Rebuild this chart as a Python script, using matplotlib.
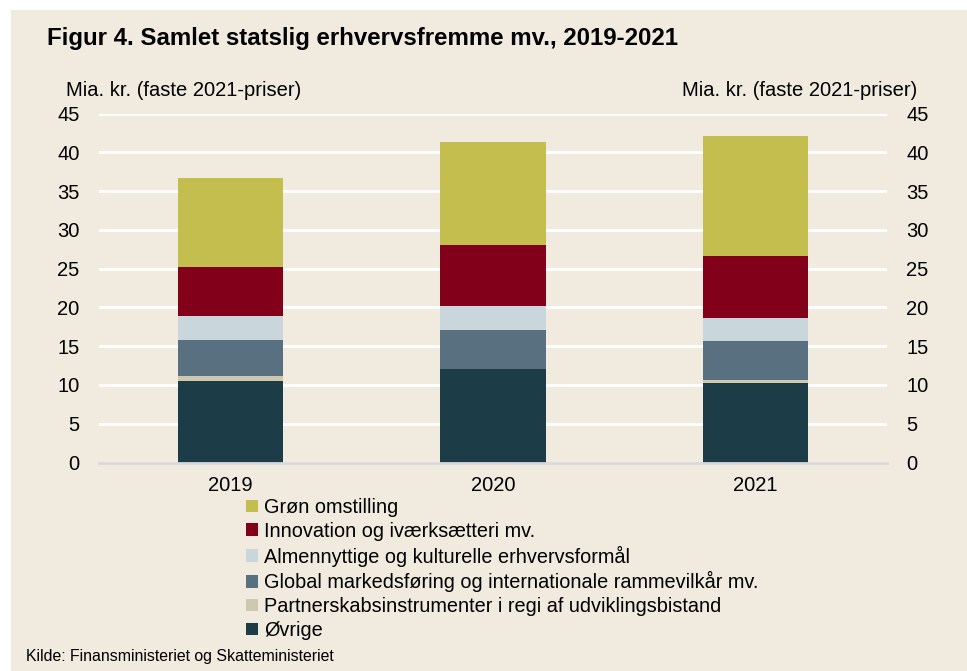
import matplotlib
matplotlib.use("Agg")
import matplotlib.pyplot as plt
from matplotlib.patches import Patch, Rectangle
import numpy as np

plt.rcParams['font.family'] = ['Liberation Sans', 'DejaVu Sans']

years = ["2019", "2020", "2021"]
series_names = [
    "Øvrige",
    "Partnerskabsinstrumenter i regi af udviklingsbistand",
    "Global markedsføring og internationale rammevilkår mv.",
    "Almennyttige og kulturelle erhvervsformål",
    "Innovation og iværksætteri mv.",
    "Grøn omstilling",
]
ovrige = [10.5, 12.1, 10.3]
partner = [0.65, 0.0, 0.4]
global_mf = [4.7, 5.05, 4.95]
almen = [3.05, 3.05, 2.95]
innovation = [6.3, 7.8, 8.1]
gron = [11.5, 13.35, 15.4]
series = [ovrige, partner, global_mf, almen, innovation, gron]
colors = ["#1C3C48", "#CEC9AE", "#587080", "#C9D6DC", "#820019", "#C4BE4F"]
yticks = [0, 5, 10, 15, 20, 25, 30, 35, 40, 45]

BG = "#F0EADF"
FS = 14.5
fig = plt.figure(figsize=(9.67, 6.71), dpi=100)
fig.patch.set_facecolor("white")
fig.patches.append(Rectangle((11/967, 0), 1, (671-10)/671, transform=fig.transFigure,
                             facecolor=BG, edgecolor="none", zorder=-10))

ax = fig.add_axes([99/967, 208.5/671, 788/967, 348.8/671])
ax.set_facecolor("none")
x = np.arange(len(years))
bottom = np.zeros(len(years))
for vals, col, name in zip(series, colors, series_names):
    ax.bar(x, vals, width=0.4, bottom=bottom, color=col, label=name, zorder=3)
    bottom += np.array(vals)

ax.set_xlim(-0.5, 2.5)
ax.set_ylim(0, 45)
ax.set_yticks(yticks)
ax.set_yticklabels([str(t) for t in yticks], fontsize=FS)
ax.yaxis.grid(True, color="white", linewidth=2, zorder=0)
ax.set_axisbelow(True)
ax.set_xticks(x)
ax.set_xticklabels(years, fontsize=FS)
ax.tick_params(axis="both", length=0)
ax.tick_params(axis="y", pad=14)
ax.tick_params(axis="x", pad=10)
for s in ["top", "right", "left"]:
    ax.spines[s].set_visible(False)
ax.spines["bottom"].set_color("#D9D9D9")
ax.spines["bottom"].set_linewidth(2)
ax.spines["bottom"].set_zorder(4)

ax2 = ax.twinx()
ax2.set_ylim(0, 45)
ax2.set_yticks(yticks)
ax2.set_yticklabels([str(t) for t in yticks], fontsize=FS)
ax2.tick_params(axis="y", length=0, pad=14)
for s in ["top", "right", "left", "bottom"]:
    ax2.spines[s].set_visible(False)

fig.text(47/967, 1 - 38/671, "Figur 4. Samlet statslig erhvervsfremme mv., 2019-2021",
         fontsize=17.3, fontweight="bold", va="center", ha="left")
fig.text(66/967, 1 - 91/671, "Mia. kr. (faste 2021-priser)", fontsize=FS, va="center", ha="left")
fig.text(917/967, 1 - 91/671, "Mia. kr. (faste 2021-priser)", fontsize=FS, va="center", ha="right")
fig.text(26/967, 1 - 657/671, "Kilde: Finansministeriet og Skatteministeriet", fontsize=11.4,
         va="center", ha="left")

handles = [Patch(facecolor=c) for c in colors][::-1]
labels = series_names[::-1]
fig.legend(handles, labels, loc="upper left", bbox_to_anchor=(246/967, 1 - 498/671),
           frameon=False, fontsize=14.3, handlelength=0.6, handleheight=0.6,
           handletextpad=0.3, labelspacing=0.24, borderaxespad=0, borderpad=0)

fig.savefig("out.png", dpi=100, facecolor=fig.get_facecolor())
